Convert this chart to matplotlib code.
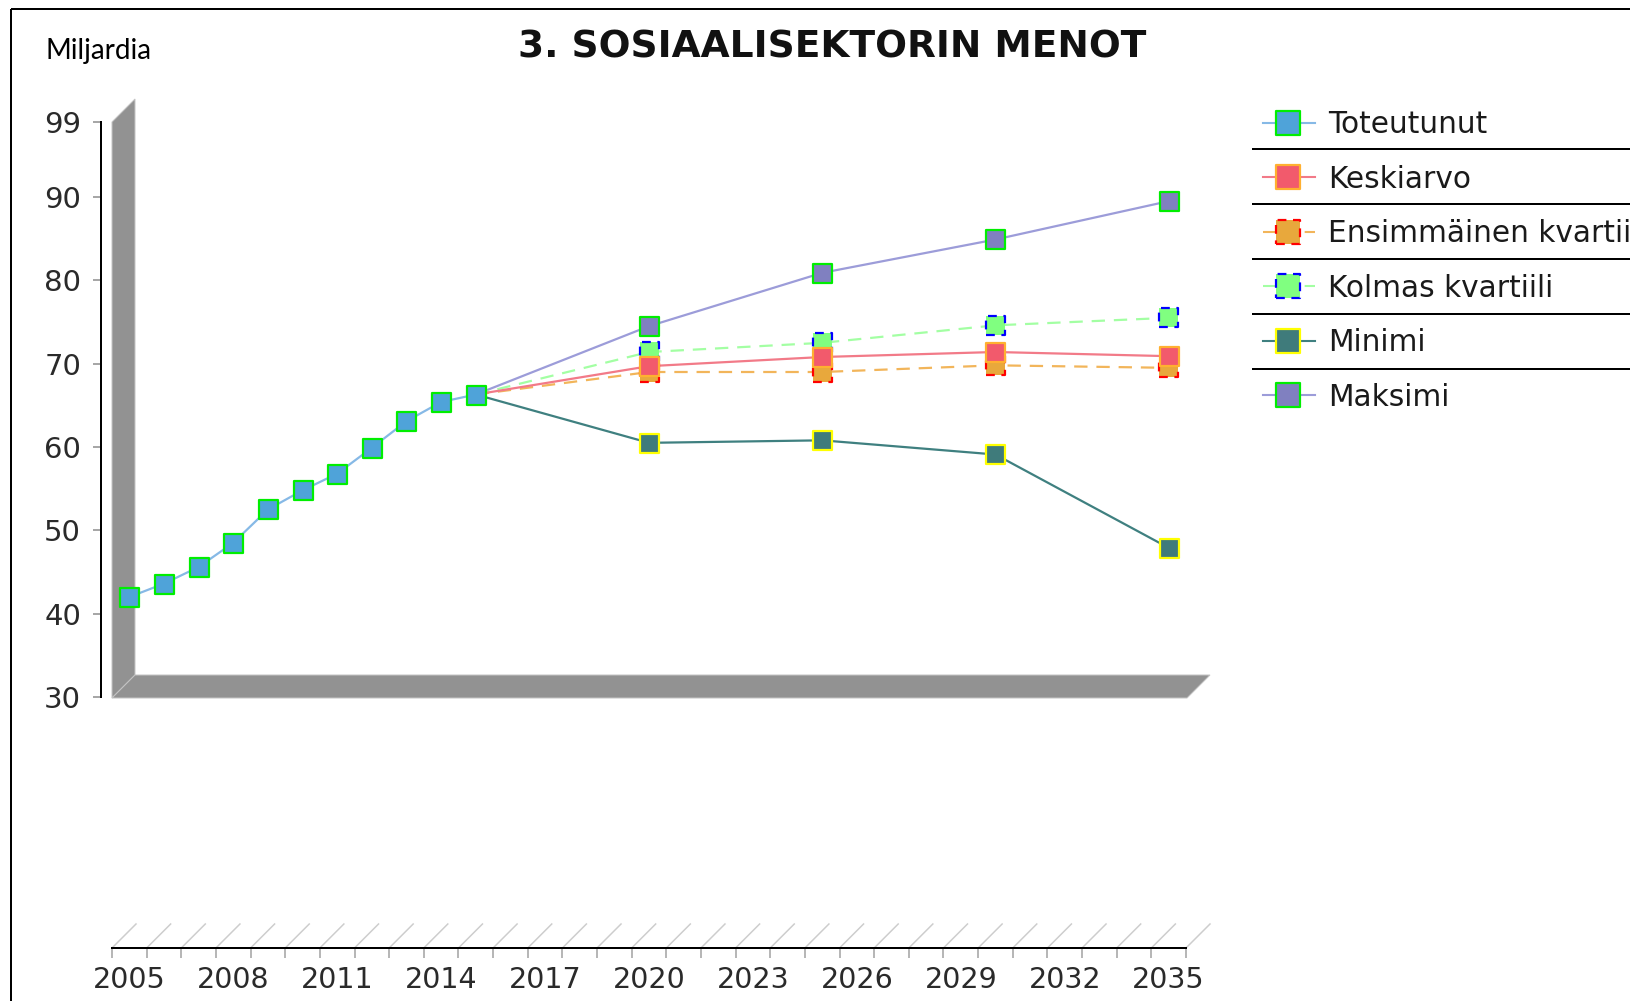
import matplotlib
matplotlib.use("Agg")
import matplotlib.pyplot as plt
from matplotlib.patches import Polygon, Rectangle

plt.rcParams['font.family'] = ['DejaVu Sans']

# ---------------- data ----------------
title = "3. SOSIAALISEKTORIN MENOT"
unit_label = "Miljardia"
years_hist = [2005, 2006, 2007, 2008, 2009, 2010, 2011, 2012, 2013, 2014, 2015]
toteutunut = [42.0, 43.6, 45.6, 48.5, 52.5, 54.8, 56.8, 59.9, 63.1, 65.4, 66.3]
years_proj = [2015, 2020, 2025, 2030, 2035]
keskiarvo = [66.3, 69.7, 70.8, 71.4, 70.9]
ensimmainen = [66.3, 69.0, 69.0, 69.8, 69.5]
kolmas = [66.3, 71.4, 72.5, 74.6, 75.5]
minimi = [66.3, 60.5, 60.8, 59.1, 47.9]
maksimi = [66.3, 74.5, 80.9, 84.9, 89.5]
y_ticks = [30, 40, 50, 60, 70, 80, 90, 99]
x_label_years = [2005, 2008, 2011, 2014, 2017, 2020, 2023, 2026, 2029, 2032, 2035]
x_tick_bounds = [2004.5 + k for k in range(32)]

series_names = ["Toteutunut", "Keskiarvo", "Ensimmäinen kvartiili",
                "Kolmas kvartiili", "Minimi", "Maksimi"]

# ---------------- styles ----------------
W, H = 1630, 1001
PT = 72 / 100.0
styles = {
    "Toteutunut": dict(line='#86b9e6', fill='#4fa3d9', edge='#00ee00', ls='-', els='-'),
    "Keskiarvo": dict(line='#f27a88', fill='#f25a6c', edge='#ffb030', ls='-', els='-'),
    "Ensimmäinen kvartiili": dict(line='#f2b55a', fill='#e8a83c', edge='#ff0000',
                                  ls=(0, (6, 4)), els=(0, (4, 3))),
    "Kolmas kvartiili": dict(line='#a3ffa3', fill='#80ff80', edge='#0000ff',
                             ls=(0, (6, 4)), els=(0, (4, 3))),
    "Minimi": dict(line='#3f8080', fill='#3f7b7b', edge='#ffff00', ls='-', els='-'),
    "Maksimi": dict(line='#9c9cd9', fill='#8080c0', edge='#00ee00', ls='-', els='-'),
}
data = {
    "Toteutunut": (years_hist, toteutunut),
    "Keskiarvo": (years_proj, keskiarvo),
    "Ensimmäinen kvartiili": (years_proj, ensimmainen),
    "Kolmas kvartiili": (years_proj, kolmas),
    "Minimi": (years_proj, minimi),
    "Maksimi": (years_proj, maksimi),
}

fig = plt.figure(figsize=(W / 100, H / 100), dpi=100)
fig.patch.set_facecolor('white')

def fx(px):
    return px / W

def fy(py):
    return 1 - py / H

# overlay in pixel coordinates for frame decorations
ov = fig.add_axes([0, 0, 1, 1], zorder=0)
ov.set_xlim(0, W)
ov.set_ylim(H, 0)
ov.axis('off')

# outer border (left & top visible)
ov.add_patch(Rectangle((11, 9), W + 20, H + 20, fill=False, edgecolor='black', lw=2 * PT))

# 3D walls
wall_col = '#929292'
ov.add_patch(Polygon([(112, 698), (112, 122), (135, 99), (135, 675)], closed=True,
                     facecolor=wall_col, edgecolor='#c4c4c4', lw=1 * PT))
ov.add_patch(Polygon([(112, 698), (1187, 698), (1210, 675), (135, 675)], closed=True,
                     facecolor=wall_col, edgecolor='#c4c4c4', lw=1 * PT))

# main axes
ax = fig.add_axes([fx(112), fy(697), (1186 - 112) / W, (697 - 122) / H], zorder=1)
ax.patch.set_alpha(0)
ax.set_xlim(2004.5, 2035.5)
ax.set_ylim(30, 99)
for s in ['top', 'right']:
    ax.spines[s].set_visible(False)
ax.spines['left'].set_position(('outward', 11 * PT))
ax.spines['left'].set_linewidth(2 * PT)
ax.spines['bottom'].set_position(('outward', 251 * PT))
ax.spines['bottom'].set_linewidth(2 * PT)

ax.set_yticks(y_ticks)
ax.set_yticklabels([str(v) for v in y_ticks])
ax.tick_params(axis='y', length=8 * PT, width=1.5 * PT, color='#8a8a8a',
               labelsize=21, labelcolor='#2a2a2a', pad=12 * PT)

ax.set_xticks(x_tick_bounds)
ax.set_xticklabels([''] * len(x_tick_bounds))
ax.set_xticks(x_label_years, minor=True)
ax.set_xticklabels([str(y) for y in x_label_years], minor=True)
ax.tick_params(axis='x', which='major', length=10 * PT, width=1.5 * PT, color='#a0a0a0')
ax.tick_params(axis='x', which='minor', length=0, labelsize=20.5,
               labelcolor='#2a2a2a', pad=18 * PT)

# series: lines first, then markers (series 0 on top)
marker_side = 19 * PT
n = len(series_names)
for i, name in enumerate(series_names):
    st = styles[name]
    xs, ys = data[name]
    ax.plot(xs, ys, color=st['line'], lw=1.6, linestyle=st['ls'],
            zorder=2 + (n - i) * 0.01, clip_on=False, solid_capstyle='butt')
for i, name in enumerate(series_names):
    st = styles[name]
    xs, ys = data[name]
    if i > 0:
        # shared 2015 starting point is covered by the Toteutunut marker
        xs, ys = xs[1:], ys[1:]
    ax.scatter(xs, ys, marker='s', s=marker_side ** 2, facecolor=st['fill'],
               edgecolor=st['edge'], linewidths=2.2 * PT, linestyle=st['els'],
               zorder=3 + (n - i) * 0.1, clip_on=False)

# depth lines above the x axis
fig.canvas.draw()
for xv in x_tick_bounds:
    px = ax.transData.transform((xv, 30))[0]
    ov.plot([px, px + 24], [948, 924], color='#cdcdcd', lw=1.5 * PT, zorder=1)

# legend (manual, with separators)
leg_y = [122.5, 177, 231.5, 286, 340.5, 395]
for i, name in enumerate(series_names):
    st = styles[name]
    yy = leg_y[i]
    ov.plot([1263, 1315], [yy, yy], color=st['line'], lw=1.5, linestyle=st['ls'], zorder=2)
    ov.scatter([1288], [yy], marker='s', s=(24 * PT) ** 2, facecolor=st['fill'],
               edgecolor=st['edge'], linewidths=2.2 * PT, linestyle=st['els'], zorder=3)
    ov.text(1328, yy + 10.8, name, fontsize=21.3, color='#1a1a1a', va='baseline', ha='left')
for yy in [149, 204, 259, 314, 369]:
    ov.plot([1253, W + 5], [yy, yy], color='black', lw=2 * PT, zorder=2)

# titles
ov.text(832, 58, title, fontsize=27, fontweight='bold', ha='center', va='baseline',
        color='#111111')
ov.text(46, 59, unit_label, fontsize=20, ha='left', va='baseline', color='black',
        family=['Lato', 'DejaVu Sans'])

fig.savefig('out.png', dpi=100, facecolor='white')
